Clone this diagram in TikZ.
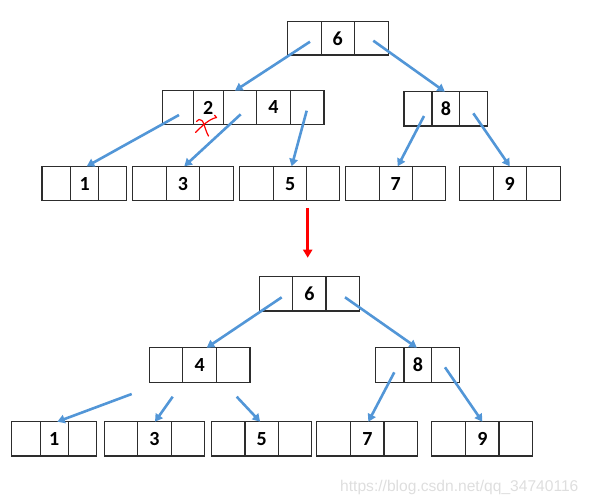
\documentclass[tikz,border=0pt]{standalone}
\usepackage{fontspec}
\setmainfont{Carlito}
\newfontfamily\wmfont{Liberation Sans}
\usetikzlibrary{arrows.meta}
\definecolor{arrowblue}{RGB}{82,150,215}
\definecolor{boxgray}{RGB}{45,45,45}
\definecolor{wmgray}{RGB}{222,222,222}
\tikzset{
  cell/.style={draw=boxgray, line width=1.1pt, inner sep=0pt, outer sep=0pt, anchor=north west,
    font=\bfseries\fontsize{20}{24}\selectfont},
  barrow/.style={draw=arrowblue, line width=2.6pt, -{Triangle[length=7.5pt,width=8.5pt]}},
  rarrow/.style={draw=red, line width=3pt, -{Triangle[length=8pt,width=9pt]}},
  redmark/.style={draw=red, line width=1.2pt, line cap=round, line join=round},
  watermark/.style={inner sep=0pt, anchor=base west, text=wmgray, font=\wmfont\fontsize{15.6}{18}\selectfont}
}
% name, x0, x1, x2, x3, ytop, ybot, label
\newcommand\tripnode[8]{%
  \node[cell, minimum width={(#3-#2)*1pt}, minimum height={(#7-#6)*1pt}] (#1a) at (#2,#6) {};
  \node[cell, minimum width={(#4-#3)*1pt}, minimum height={(#7-#6)*1pt}] (#1b) at (#3,#6) {#8};
  \node[cell, minimum width={(#5-#4)*1pt}, minimum height={(#7-#6)*1pt}] (#1c) at (#4,#6) {};
}
\begin{document}
\begin{tikzpicture}[x=1pt, y=-1pt]
\useasboundingbox (0,0) rectangle (591,499);
% ---------- upper tree ----------
\tripnode{t6}{287.3}{321.3}{354.3}{388.3}{21.7}{55}{6}
\node[cell, minimum width=30.6pt, minimum height=33.6pt] (t24a) at (162.7,90.7) {};
\node[cell, minimum width=30pt,   minimum height=33.6pt] (t24b) at (193.3,90.7) {2};
\node[cell, minimum width=33.4pt, minimum height=33.6pt] (t24c) at (223.3,90.7) {};
\node[cell, minimum width=33.6pt, minimum height=33.6pt] (t24d) at (256.7,90.7) {4};
\node[cell, minimum width=33.7pt, minimum height=33.6pt] (t24e) at (290.3,90.7) {};
\tripnode{t8}{404}{432}{459.7}{487.7}{91.7}{126}{8}
\tripnode{b1}{42}{70.6}{98.9}{126.4}{166.3}{200.9}{1}
\tripnode{b3}{132.3}{166.3}{199.5}{233.2}{166.3}{200.9}{3}
\tripnode{b5}{239.4}{273.8}{306.5}{339.9}{166.3}{200.9}{5}
\tripnode{b7}{345.4}{379.2}{412.3}{445.6}{166.3}{200.9}{7}
\tripnode{b9}{459.8}{493.1}{526.5}{560.3}{166.3}{200.9}{9}
% arrow starts
\coordinate (u1) at (310,41.7);
\coordinate (u2) at (373.3,40.7);
\coordinate (u3) at (179,115);
\coordinate (u4) at (240.7,114.3);
\coordinate (u5) at (306.7,110.7);
\coordinate (u6) at (424,116);
\coordinate (u7) at (473.3,113.3);
\draw[barrow] (u1) -- ([xshift=-5pt]t24c.north);
\draw[barrow] (u2) -- ([xshift=-1pt]t8b.north);
\draw[barrow] (u3) -- ([xshift=2pt]b1b.north);
\draw[barrow] (u4) -- ([xshift=1.4pt]b3b.north);
\draw[barrow] (u5) -- ([xshift=1.5pt]b5b.north);
\draw[barrow] (u6) -- ([xshift=2pt]b7b.north);
\draw[barrow] (u7) -- (b9b.north);
% red cross mark
\draw[redmark] (195.5,132.5) .. controls (202,126) and (209,119) .. (216.5,117.5) -- (214.5,115.2);
\draw[redmark] (196.5,121.5) -- (199,119.5) .. controls (204,118.5) and (204,128) .. (208.5,136);
% red transition arrow
\coordinate (ra) at (307.7,208.3);
\coordinate (rb) at (307.7,257.7);
\draw[rarrow] (ra) -- (rb);
% ---------- lower tree ----------
\tripnode{l6}{259.3}{292.7}{326}{359.3}{276.7}{311}{6}
\tripnode{l4}{149.3}{182.7}{216.7}{250}{347.7}{382.7}{4}
\tripnode{l8}{375.7}{404}{431.7}{459.3}{347.7}{382.2}{8}
\tripnode{c1}{11.7}{40.3}{68.3}{96.3}{421.7}{456}{1}
\tripnode{c3}{104.3}{137.7}{171.3}{204.3}{421.7}{456}{3}
\tripnode{c5}{211.7}{245}{278.3}{311.7}{421.7}{456}{5}
\tripnode{c7}{316.7}{350.7}{384}{417.7}{421.7}{456}{7}
\tripnode{c9}{431.7}{465.7}{499}{532.3}{421.7}{456}{9}
\coordinate (v1) at (281.7,297.3);
\coordinate (v2) at (345,297.3);
\coordinate (v3) at (131.7,394);
\coordinate (v4) at (172.7,396.7);
\coordinate (v5) at (236.7,396.7);
\coordinate (v6) at (394.3,372.3);
\coordinate (v7) at (445,367.3);
\draw[barrow] (v1) -- ([xshift=7pt]l4b.north);
\draw[barrow] (v2) -- ([xshift=-1pt]l8b.north);
\draw[barrow] (v3) -- ([xshift=3pt]c1b.north);
\draw[barrow] (v4) -- ([xshift=0.5pt]c3b.north);
\draw[barrow] (v5) -- ([xshift=-1.5pt]c5b.north);
\draw[barrow] (v6) -- ([xshift=1pt]c7b.north);
\draw[barrow] (v7) -- (c9b.north);
% watermark
\node[watermark] (wm) at (340,491.5) {https://blog.csdn.net/qq\_34740116};
\end{tikzpicture}
\end{document}
